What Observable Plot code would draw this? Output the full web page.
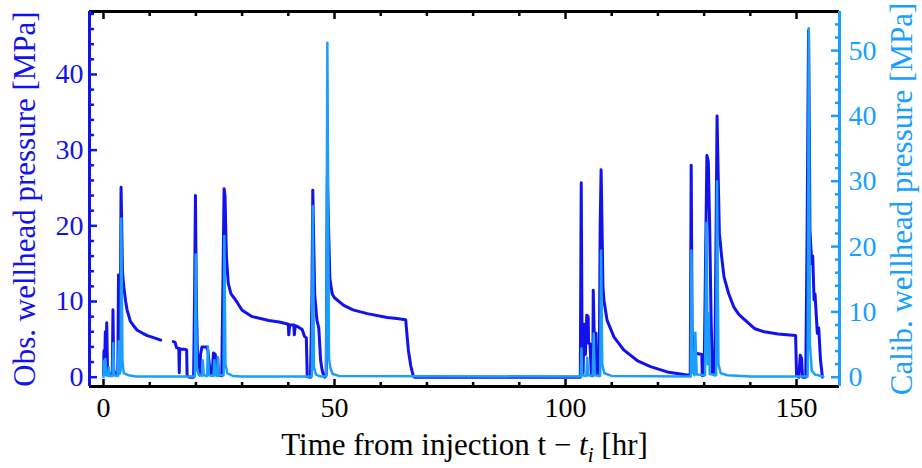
<!DOCTYPE html>
<html><head><meta charset="utf-8">
<script src="https://cdn.jsdelivr.net/npm/d3@7"></script>
<script src="https://cdn.jsdelivr.net/npm/@observablehq/plot@0.6"></script>
<style>body{margin:0;background:#fff} #chart{width:922px;height:468px}</style>
</head><body><div id="chart"></div>
<script>
// Observed wellhead pressure [MPa] (left axis); null = data gap
const obsT = [0.0,0.1,0.25,0.4,0.55,0.7,0.85,1.2,1.5,1.9,2.05,2.2,2.6,3.1,3.25,3.4,3.6,3.8,3.95,4.1,4.4,4.8,5.1,5.8,6.5,7.3,8.5,9.5,11,12.4,
  13.5,
  15.1,15.5,15.8,16.3,16.4,16.5,16.6,17.5,18.0,18.1,18.6,19.5,19.7,19.9,20.1,20.4,20.8,21.0,21.3,22.3,22.6,23.1,23.5,23.8,24.2,24.4,24.7,24.9,25.6,25.9,26.1,26.3,26.6,27.0,27.6,28.6,30.0,32.2,35.8,38,39.4,40.0,40.1,40.3,41.2,41.3,41.5,42.0,43.0,43.5,43.9,44.1,44.8,45.1,45.3,45.5,45.7,46.2,46.6,47.0,47.3,47.5,47.9,48.2,48.45,48.7,49.0,49.5,50,52,54,57.1,61.4,63.5,65.4,65.6,66.0,66.5,67.0,67.3,80,95,
  103.2,103.4,103.6,103.8,104.0,104.3,104.6,104.9,105.0,105.3,105.6,105.9,106.0,106.2,106.6,106.8,107.3,107.5,107.7,107.9,108.1,108.3,109.0,110.5,112.6,115.5,118.4,122,126.3,127.0,127.2,127.4,127.6,128.0,129.5,129.6,130.0,130.3,130.6,130.9,131.2,131.5,131.8,132.3,132.6,132.8,133.0,133.3,133.8,134.3,135.3,136.4,137.5,138.5,141,143,146,149.8,150.0,150.5,150.8,151.1,151.3,152.0,152.3,152.6,152.8,152.9,153.3,153.5,153.8,154.0,154.5,154.8,155.2,155.6];
const obsP = [0.3,3.5,2.0,6.0,1.0,7.2,1.5,0.5,0.3,0.5,8.9,1.0,0.3,0.5,13.5,1.0,2.0,25.1,20,14,11.9,10.0,8.9,7.4,6.8,6.2,5.8,5.5,5.2,4.9,
  null,
  4.7,4.6,3.9,3.8,0.6,3.8,3.7,3.7,3.6,0.2,0.0,0.0,10,24.0,10,1.0,0.3,3.0,4.0,4.0,3.5,0.5,0.3,3.2,3.0,0.5,2.5,0.3,0.2,15,24.9,24.0,16,12.4,11,10.2,8.85,8.0,7.5,7.3,7.1,7.0,5.6,6.9,6.9,5.6,6.8,6.7,6.3,5.4,5.2,0.1,0.0,10,24.7,18,11,7.5,6.5,2.2,1.0,0.5,0.0,0.3,26.7,20,13,11,10.5,9.5,8.9,8.4,7.9,7.75,7.6,6.2,3.5,1.5,0.3,0.0,0.0,0.0,
  0.0,25.7,2.0,0.5,7.0,3.0,8.2,8.0,4.5,4.4,0.2,0.2,11.5,5.8,5.8,0.3,0.2,20,27.4,20,12,10.2,7.5,5.3,3.6,2.2,1.4,0.7,0.3,0.3,28.0,6,3.5,3.2,3.0,0.2,0.3,15,29.3,28.5,20,8,0.5,0.3,20,34.5,28,19,15.9,13.25,11.06,9.3,8.3,7.75,6.4,6.0,5.7,5.5,0.3,0.0,2.9,2.5,0.0,0.0,20,45.8,30,19.4,15,16,10.2,11,5.8,6.5,2.2,0.0];

// Calibrated wellhead pressure [MPa] (right axis)
const calT = [0.0,0.05,0.2,0.3,0.4,0.55,1.0,1.15,1.3,1.95,2.1,2.3,3.1,3.3,3.5,3.7,3.85,4.1,4.4,5.5,7,19.8,19.95,20.2,20.6,21.3,21.5,21.7,22.4,22.6,22.8,23.8,24.0,24.2,24.6,24.75,24.9,26.0,26.15,26.4,26.8,28,30,45.1,45.3,45.55,46,47,48.2,48.45,48.8,49.1,49.6,51,103.3,103.45,103.6,104.5,104.7,104.9,105.9,106.1,106.3,107.5,107.7,107.95,108.4,110,127.1,127.25,127.5,127.9,128.1,128.4,130.2,130.5,130.8,131.0,131.2,132.6,132.8,133.1,133.6,135,140,152.4,152.65,152.9,153.3,154,155.8];
const calP = [0.0,2.4,2.6,0.4,2.8,0.3,0.2,1.5,0.2,0.2,5.2,0.3,0.2,5.5,0.5,1.0,24.3,2.5,0.6,0.3,0.1,0.1,18.8,1.5,0.4,0.2,2.6,0.3,0.2,4.7,0.3,0.2,2.6,0.3,0.2,3.1,0.3,0.3,21.6,2.0,0.6,0.2,0.1,0.1,26.2,1.5,0.4,0.1,0.1,51.2,3.0,1.4,0.5,0.2,0.1,4.4,0.3,0.2,3.0,0.3,0.2,6.7,0.3,0.2,19.4,2.0,0.6,0.2,0.1,19.4,0.8,0.3,6.8,0.4,0.3,23.6,2.0,9.8,0.5,0.3,30.0,2.0,0.6,0.3,0.1,0.1,53.4,5,1.0,0.4,0.1];

const xMajor = [0, 50, 100, 150];
const xMinor = [10, 20, 30, 40, 60, 70, 80, 90, 110, 120, 130, 140];
const leftMajor = [0, 10, 20, 30, 40];
const leftMinor = [2, 4, 6, 8, 12, 14, 16, 18, 22, 24, 26, 28, 32, 34, 36, 38, 42, 44, 46, 48];
const rightMajor = [0, 10, 20, 30, 40, 50];
const rightMinor = [2, 4, 6, 8, 12, 14, 16, 18, 22, 24, 26, 28, 32, 34, 36, 38, 42, 44, 46, 48, 52, 54];

const xDomain = [-3.03, 159.3];
const leftDomain = [-1.23, 48.32];
const rightDomain = [-1.42, 55.98];

const DARK = "#1212ee";
const LIGHT = "#1a9fff";
const FONT = "'Liberation Serif', 'Times New Roman', serif";

const k = (leftDomain[1] - leftDomain[0]) / (rightDomain[1] - rightDomain[0]);
const toLeft = v => leftDomain[0] + (v - rightDomain[0]) * k;
const fromLeft = v => rightDomain[0] + (v - leftDomain[0]) / k;

const obs = obsT.map((t, i) => ({t, p: obsP[i]}));
const cal = calT.map((t, i) => ({t, p: calP[i]}));

const chart = Plot.plot({
  width: 922,
  height: 468,
  marginLeft: 89,
  marginRight: 83,
  marginTop: 11,
  marginBottom: 82,
  style: {fontFamily: FONT, fontSize: "28px", background: "white", color: "black"},
  x: {domain: xDomain},
  y: {domain: leftDomain},
  marks: [
    Plot.line(obs, {x: "t", y: "p", stroke: DARK, strokeWidth: 3}),
    Plot.line(cal, {x: "t", y: d => toLeft(d.p), stroke: LIGHT, strokeWidth: 2.5}),
    Plot.axisX(xMajor, {anchor: "bottom", tickSize: -7, tickPadding: 18, strokeWidth: 2.5, tickFormat: d => String(d),
      label: "Time from injection t − ti [hr]", labelAnchor: "center", labelOffset: 68, labelArrow: "none"}),
    Plot.axisX(xMinor, {anchor: "bottom", tickSize: -4, strokeWidth: 2.5, tickFormat: () => "", label: null}),
    Plot.axisX(xMajor, {anchor: "top", tickSize: -7, strokeWidth: 2.5, tickFormat: () => "", label: null}),
    Plot.axisX(xMinor, {anchor: "top", tickSize: -4, strokeWidth: 2.5, tickFormat: () => "", label: null}),
    Plot.axisY(leftMajor, {anchor: "left", tickSize: -8, tickPadding: 14, strokeWidth: 2.5, color: DARK,
      label: "Obs. wellhead pressure [MPa]", labelAnchor: "center", labelOffset: 77, labelArrow: "none"}),
    Plot.axisY(leftMinor, {anchor: "left", tickSize: -5, strokeWidth: 2.5, color: DARK, tickFormat: () => "", label: null}),
    Plot.axisY(rightMajor.map(toLeft), {anchor: "right", tickSize: -9, tickPadding: 18, strokeWidth: 2.5, color: LIGHT,
      tickFormat: d => String(Math.round(fromLeft(d))),
      label: "Calib. wellhead pressure [MPa]", labelAnchor: "center", labelOffset: 72, labelArrow: "none"}),
    Plot.axisY(rightMinor.map(toLeft), {anchor: "right", tickSize: -5, strokeWidth: 2.5, color: LIGHT, tickFormat: () => "", label: null}),
    Plot.ruleY([leftDomain[0]], {stroke: "black", strokeWidth: 3}),
    Plot.ruleY([leftDomain[1]], {stroke: "black", strokeWidth: 3}),
    Plot.ruleX([xDomain[0]], {stroke: DARK, strokeWidth: 3}),
    Plot.ruleX([xDomain[1]], {stroke: LIGHT, strokeWidth: 3})
  ]
});

// Larger axis titles
chart.querySelectorAll('g[aria-label="y-axis label"] text').forEach(t => t.setAttribute("font-size", "31px"));

// Italic t with subscript i in the x-axis title
const lab = chart.querySelector('g[aria-label="x-axis label"] text');
if (lab) {
  const ns = "http://www.w3.org/2000/svg";
  lab.setAttribute("font-size", "31px");
  lab.textContent = "";
  const parts = [
    {t: "Time from injection t − ", s: {}},
    {t: "t", s: {"font-style": "italic"}},
    {t: "i", s: {"font-style": "italic", "font-size": "21px", dy: "7"}},
    {t: " [hr]", s: {dy: "-7"}}
  ];
  for (const p of parts) {
    const ts = document.createElementNS(ns, "tspan");
    ts.textContent = p.t;
    for (const [a, v] of Object.entries(p.s)) ts.setAttribute(a, v);
    lab.appendChild(ts);
  }
}
document.getElementById("chart").appendChild(chart);
</script>
</body></html>
